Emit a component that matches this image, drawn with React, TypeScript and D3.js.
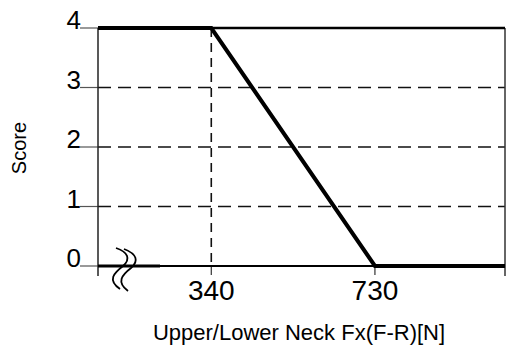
import React from "react";
import * as d3 from "d3";

const xTicks = [340, 730];
const yTicks = [0, 1, 2, 3, 4];
const gridY = [1, 2, 3];
const lineX = [70, 340, 730, 1040];
const lineY = [4, 4, 0, 0];
const xTitle = "Upper/Lower Neck Fx(F-R)[N]";
const yTitle = "Score";

export default function App() {
  const W = 506, H = 352;
  const left = 98, right = 505, top = 28, bottom = 266;
  const x = d3.scaleLinear().domain([70, 1040]).range([left, right]);
  const y = d3.scaleLinear().domain([0, 4]).range([bottom, top]);
  const pts = lineX.map((v, i) => [x(v), y(lineY[i])] as [number, number]);
  const line = d3.line();
  const font = "Arial, 'Liberation Sans', sans-serif";
  const breakA = "M116,248 C128,252 131,259 123,266 C114,273 107,280 120,289";
  const breakB = "M124,249 C137,254 139,261 131,268 C122,275 116,282 128,291";
  return (
    <svg width={W} height={H} style={{ position: "absolute", left: 0, top: 0, background: "#fff" }} fontFamily={font}>
      {gridY.map((v) => (
        <line key={v} x1={left} x2={right} y1={y(v)} y2={y(v)} stroke="#111" strokeWidth={1.6} strokeDasharray="13 7" />
      ))}
      <line x1={x(xTicks[0])} x2={x(xTicks[0])} y1={top} y2={bottom} stroke="#111" strokeWidth={1.6} strokeDasharray="9 6" />
      {xTicks.map((v) => (
        <line key={v} x1={x(v)} x2={x(v)} y1={bottom} y2={bottom + 9} stroke="#333" strokeWidth={1.2} />
      ))}
      {yTicks.map((v) => (
        <line key={v} x1={left - 18} x2={left} y1={y(v)} y2={y(v)} stroke="#555" strokeWidth={1.2} />
      ))}
      <line x1={left} x2={left} y1={top} y2={bottom + 10} stroke="#222" strokeWidth={1.5} />
      <line x1={right} x2={right} y1={top} y2={bottom + 10} stroke="#333" strokeWidth={1.5} />
      <line x1={left} x2={right} y1={top} y2={top} stroke="#000" strokeWidth={2.5} />
      <line x1={left} x2={right} y1={bottom} y2={bottom} stroke="#000" strokeWidth={2} />
      <line x1={left} x2={160} y1={bottom} y2={bottom} stroke="#000" strokeWidth={3} />
      <path d={line(pts) || ""} fill="none" stroke="#000" strokeWidth={4} strokeLinejoin="miter" />
      <path d={breakA} fill="none" stroke="#000" strokeWidth={1.8} />
      <path d={breakB} fill="none" stroke="#000" strokeWidth={1.8} />
      {yTicks.map((v) => (
        <text key={v} x={81} y={y(v) + 1} textAnchor="end" fontSize={26} fill="#000">{v}</text>
      ))}
      {xTicks.map((v) => (
        <text key={v} x={x(v)} y={300} textAnchor="middle" fontSize={28} fill="#000">{v}</text>
      ))}
      <text x={299} y={340} textAnchor="middle" fontSize={22} fill="#000">{xTitle}</text>
      <text transform={`translate(26,148) rotate(-90)`} textAnchor="middle" fontSize={20} fill="#000">{yTitle}</text>
    </svg>
  );
}
